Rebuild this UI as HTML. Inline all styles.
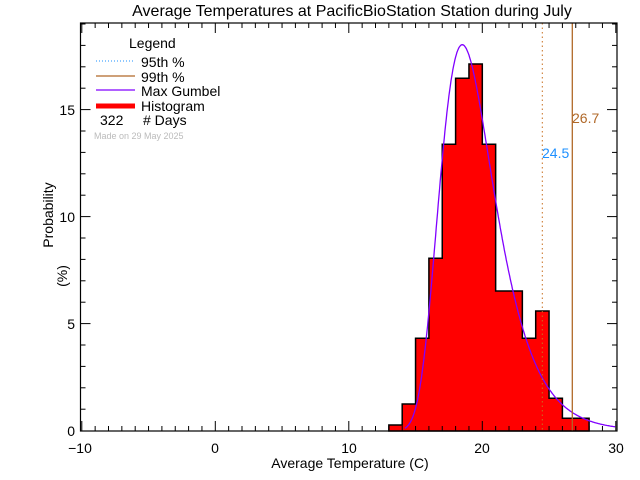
<!DOCTYPE html><html><head><style>body{margin:0;background:#fff}svg{display:block}text{font-family:"Liberation Sans",sans-serif}</style></head><body>
<svg id="s" width="640" height="480" xmlns="http://www.w3.org/2000/svg">
<rect width="640" height="480" fill="#fff"/>
<g id="bars"></g>
<path id="gum" fill="none" stroke="#8000ff" stroke-width="1.3"/>
<line x1="542.3" y1="23" x2="542.3" y2="431" stroke="#c87020" stroke-dasharray="1.5,3" stroke-width="1"/>
<line x1="572.3" y1="23" x2="572.3" y2="431" stroke="#b06828" stroke-width="1.3"/>
<text x="542" y="158" font-size="14" fill="#1e90ff">24.5</text>
<text x="572" y="123" font-size="14" fill="#b06828">26.7</text>
<rect x="80.5" y="23" width="536.5" height="408" fill="none" stroke="#000" stroke-width="1.2"/>
<g id="ticks" stroke="#000" stroke-width="1"></g>
<g font-size="14" fill="#000">
<text x="352" y="16" text-anchor="middle" font-size="16">Average Temperatures at PacificBioStation Station during July</text>
<text x="80" y="453" text-anchor="middle">−10</text>
<text x="215" y="453" text-anchor="middle">0</text>
<text x="349" y="453" text-anchor="middle">10</text>
<text x="482" y="453" text-anchor="middle">20</text>
<text x="616" y="453" text-anchor="middle">30</text>
<text x="75" y="436" text-anchor="end">0</text>
<text x="75" y="329" text-anchor="end">5</text>
<text x="75" y="222" text-anchor="end">10</text>
<text x="75" y="115" text-anchor="end">15</text>
<text x="350" y="468" text-anchor="middle">Average Temperature (C)</text>
<text transform="translate(53,215) rotate(-90)" text-anchor="middle">Probability</text>
<text transform="translate(67,276) rotate(-90)" text-anchor="middle">(%)</text>
<text x="129" y="48">Legend</text>
<text x="141" y="67">95th %</text>
<text x="141" y="82">99th %</text>
<text x="141" y="96">Max Gumbel</text>
<text x="141" y="111">Histogram</text>
<text x="100" y="125">322</text>
<text x="143" y="125"># Days</text>
<text x="94" y="139" font-size="9" fill="#bbb">Made on 29 May 2025</text>
</g>
<line x1="96" y1="61" x2="135" y2="61" stroke="#1e90ff" stroke-dasharray="1,2"/>
<line x1="96" y1="76" x2="135" y2="76" stroke="#b06828" stroke-width="1.2"/>
<line x1="96" y1="90" x2="135" y2="90" stroke="#8000ff" stroke-width="1.2"/>
<line x1="96" y1="106" x2="135" y2="106" stroke="#f00" stroke-width="5"/>
</svg>
<script>
var X=v=>482.3+(v-20)*13.35, Y=p=>430.6-p*21.4;
var tops=[425,404,338.3,258.3,144.3,78.3,64,144.3,291,291,338.3,311,398.3,418.3,418.3];
var d="M"+X(13)+",431";
for(var i=0;i<tops.length;i++){d+=" L"+X(13+i)+","+tops[i]+" L"+X(14+i)+","+tops[i];}
d+=" L"+X(28)+",431";
document.getElementById("bars").innerHTML='<path d="'+d+' Z" fill="#f00" stroke="#000" stroke-width="1.5"/>';
var mu=18.5,b=2.04,g="";
for(var x=14.2;x<=30;x+=0.05){var z=(x-mu)/b;var f=100/b*Math.exp(-(z+Math.exp(-z)));g+=(g?" L":"M")+X(x).toFixed(1)+","+Y(f).toFixed(1);}
document.getElementById("gum").setAttribute("d",g);
var t="";
for(var v=-10;v<=30;v++){var x=X(v),L=(v%10==0)?10:5;t+='<line x1="'+x+'" y1="431" x2="'+x+'" y2="'+(431-L)+'"/><line x1="'+x+'" y1="23" x2="'+x+'" y2="'+(23+L)+'"/>';}
for(var p=1;p<=19;p++){var y=Y(p),L=(p%5==0)?10:5;t+='<line x1="80.5" y1="'+y+'" x2="'+(80.5+L)+'" y2="'+y+'"/><line x1="617" y1="'+y+'" x2="'+(617-L)+'" y2="'+y+'"/>';}
document.getElementById("ticks").innerHTML=t;
</script>
</body></html>
